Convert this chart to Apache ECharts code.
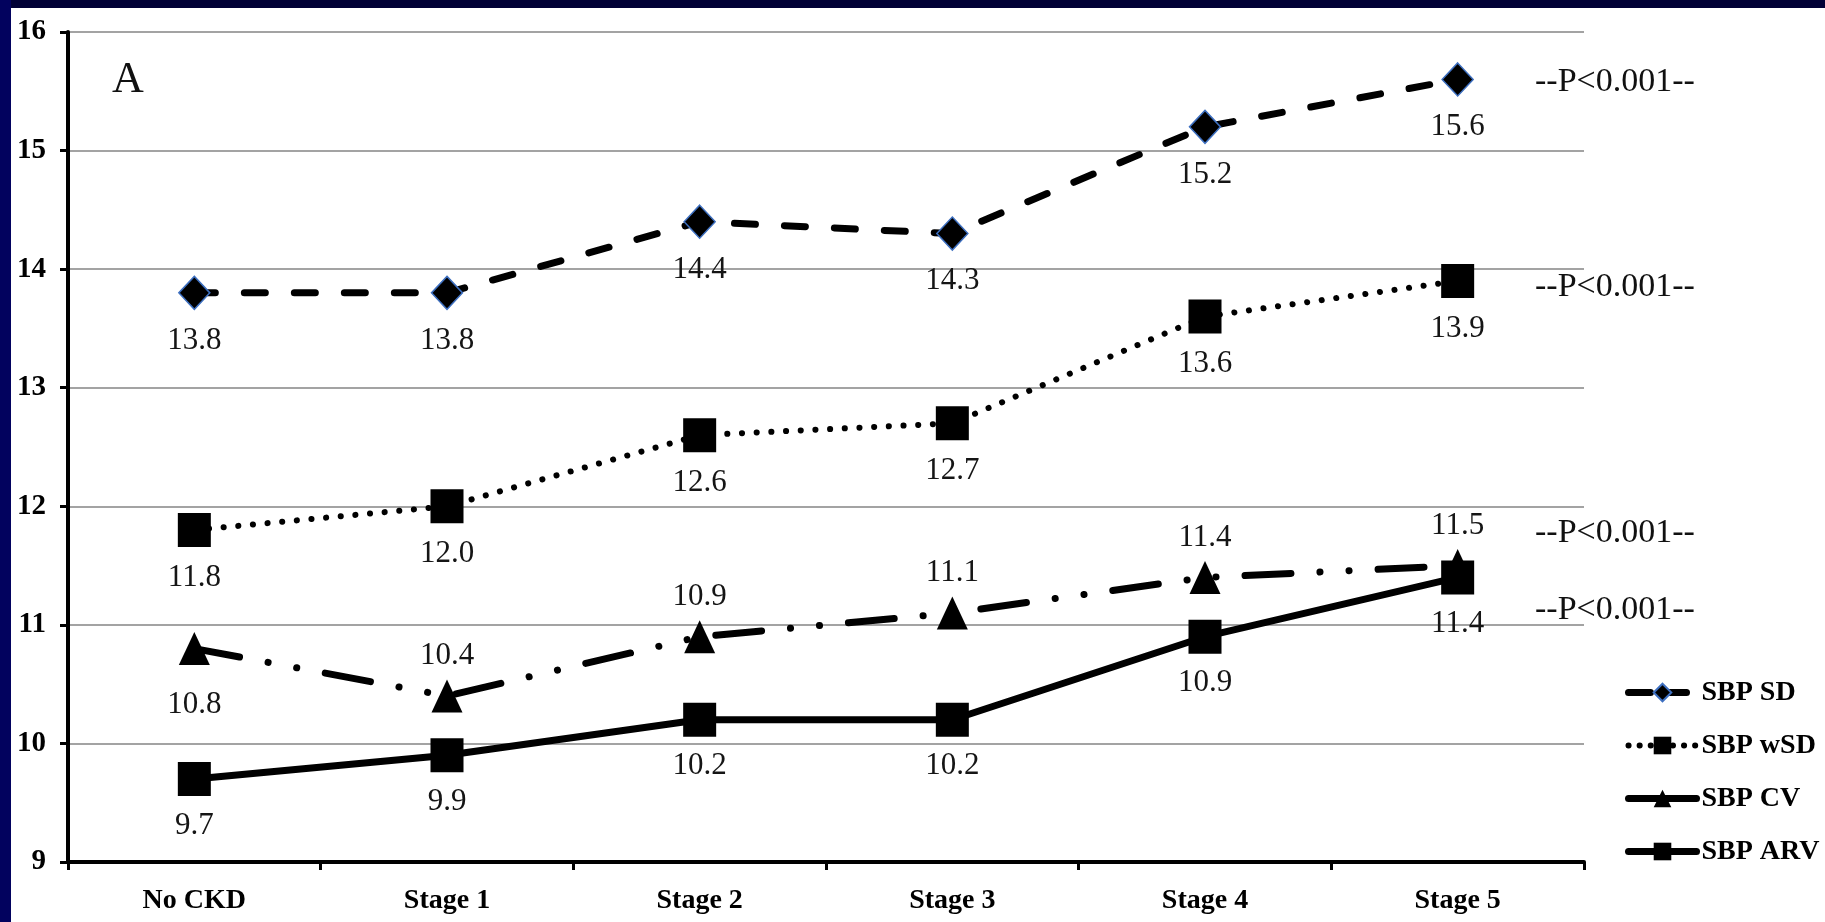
<!DOCTYPE html>
<html>
<head>
<meta charset="utf-8">
<script src="https://cdn.jsdelivr.net/npm/echarts@6/dist/echarts.min.js"></script>
<style>
  html, body { margin: 0; padding: 0; background: #ffffff; }
  #chart { position: absolute; left: 0; top: 0; width: 1825px; height: 922px; }
  #topbar { position: absolute; left: 0; top: 0; width: 1825px; height: 8px; background: #010136; }
  #leftbar { position: absolute; left: 0; top: 0; width: 11px; height: 922px; background: #02025e; }
</style>
</head>
<body>
<div id="chart"></div>
<div id="topbar"></div>
<div id="leftbar"></div>
<script>
// ---- data ----
const categories = ['No CKD', 'Stage 1', 'Stage 2', 'Stage 3', 'Stage 4', 'Stage 5'];
const seriesNames = ['SBP SD', 'SBP wSD', 'SBP CV', 'SBP ARV'];
const sbpSD  = [13.8, 13.8, 14.4, 14.3, 15.2, 15.6];
const sbpWSD = [11.8, 12.0, 12.6, 12.7, 13.6, 13.9];
const sbpCV  = [10.8, 10.4, 10.9, 11.1, 11.4, 11.5];
const sbpARV = [9.7, 9.9, 10.2, 10.2, 10.9, 11.4];
const yMin = 9, yMax = 16, yStep = 1;
const pLabels = ['--P<0.001--', '--P<0.001--', '--P<0.001--', '--P<0.001--'];
const panelLabel = 'A';

// ---- styling ----
const SERIF = "'Liberation Serif', 'Times New Roman', serif";
const labelStyle = {
  show: true,
  fontFamily: SERIF,
  fontSize: 31,
  color: '#151515',
  formatter: p => Number(p.value).toFixed(1)
};
const lineSD  = { color: '#000', width: 7, type: [21, 29], cap: 'round' };
const lineWSD = { color: '#000', width: 6, type: [0.1, 14.6], cap: 'round' };
const lineCV  = { color: '#000', width: 7, type: [46, 29, 0.1, 29, 0.1, 29], cap: 'round' };
const lineARV = { color: '#000', width: 7, type: 'solid', cap: 'butt' };
const legendLines = {
  'SBP SD':  { width: 7, type: [22, 14], cap: 'round' },
  'SBP wSD': { width: 6, type: [0.1, 11], cap: 'round' },
  'SBP CV':  { width: 7, type: 'solid', cap: 'round' },
  'SBP ARV': { width: 7, type: 'solid', cap: 'round' }
};

const chart = echarts.init(document.getElementById('chart'), null, { renderer: 'canvas' });

const cvData = sbpCV.map((v, i) => i === 0
  ? { value: v, label: { position: 'bottom', distance: 24 } }
  : v);

const option = {
  backgroundColor: '#ffffff',
  animation: false,
  grid: { left: 68, right: 241, top: 32, bottom: 60, containLabel: false, outerBoundsMode: 'none' },
  legend: {
    orient: 'vertical',
    left: 1620,
    top: 672,
    itemWidth: 68,
    itemHeight: 22,
    itemGap: 22,
    textStyle: { fontFamily: SERIF, fontSize: 28, fontWeight: 'bold', color: '#000', lineHeight: 31 },
    lineStyle: { width: 7 },
    data: seriesNames.map(n => ({ name: n, lineStyle: legendLines[n] }))
  },
  xAxis: {
    type: 'category',
    data: categories,
    boundaryGap: true,
    axisLine: { show: true, lineStyle: { color: '#000', width: 4 } },
    axisTick: { show: true, inside: false, length: 8, lineStyle: { color: '#000', width: 3 } },
    axisLabel: { fontFamily: SERIF, fontSize: 28, fontWeight: 'bold', color: '#000', margin: 25 },
    splitLine: { show: false }
  },
  yAxis: {
    type: 'value',
    min: yMin,
    max: yMax,
    interval: yStep,
    axisLine: { show: true, lineStyle: { color: '#000', width: 4 } },
    axisTick: { show: true, inside: false, length: 8, lineStyle: { color: '#000', width: 3 } },
    axisLabel: { fontFamily: SERIF, fontSize: 29, fontWeight: 'bold', color: '#000', margin: 22 },
    splitLine: { show: true, lineStyle: { color: '#a3a3a3', width: 2 } }
  },
  series: [
    {
      name: seriesNames[0], type: 'line', data: sbpSD,
      symbol: 'diamond', symbolSize: [31, 33],
      itemStyle: { color: '#000', borderColor: '#3d6fc0', borderWidth: 1.5 },
      lineStyle: lineSD,
      label: Object.assign({}, labelStyle, { position: 'bottom', distance: 15 }),
      z: 2
    },
    {
      name: seriesNames[1], type: 'line', data: sbpWSD,
      symbol: 'rect', symbolSize: [33, 34],
      itemStyle: { color: '#000' },
      lineStyle: lineWSD,
      label: Object.assign({}, labelStyle, { position: 'bottom', distance: 15 }),
      z: 3
    },
    {
      name: seriesNames[2], type: 'line', data: cvData,
      symbol: 'triangle', symbolSize: [31, 33],
      itemStyle: { color: '#000' },
      lineStyle: lineCV,
      label: Object.assign({}, labelStyle, { position: 'top', distance: 8 }),
      z: 4
    },
    {
      name: seriesNames[3], type: 'line', data: sbpARV,
      symbol: 'rect', symbolSize: [33, 34],
      itemStyle: { color: '#000' },
      lineStyle: lineARV,
      label: Object.assign({}, labelStyle, { position: 'bottom', distance: 14 }),
      z: 5
    }
  ],
  graphic: [
    { type: 'text', left: 112, top: 58, style: { text: panelLabel, font: '44px ' + SERIF, fill: '#111' } },
    { type: 'text', x: 1535, y: 82,  style: { text: pLabels[0], font: '34px ' + SERIF, fill: '#111', verticalAlign: 'middle' } },
    { type: 'text', x: 1535, y: 287, style: { text: pLabels[1], font: '34px ' + SERIF, fill: '#111', verticalAlign: 'middle' } },
    { type: 'text', x: 1535, y: 533, style: { text: pLabels[2], font: '34px ' + SERIF, fill: '#111', verticalAlign: 'middle' } },
    { type: 'text', x: 1535, y: 610, style: { text: pLabels[3], font: '34px ' + SERIF, fill: '#111', verticalAlign: 'middle' } }
  ]
};

chart.setOption(option);
</script>
</body>
</html>
